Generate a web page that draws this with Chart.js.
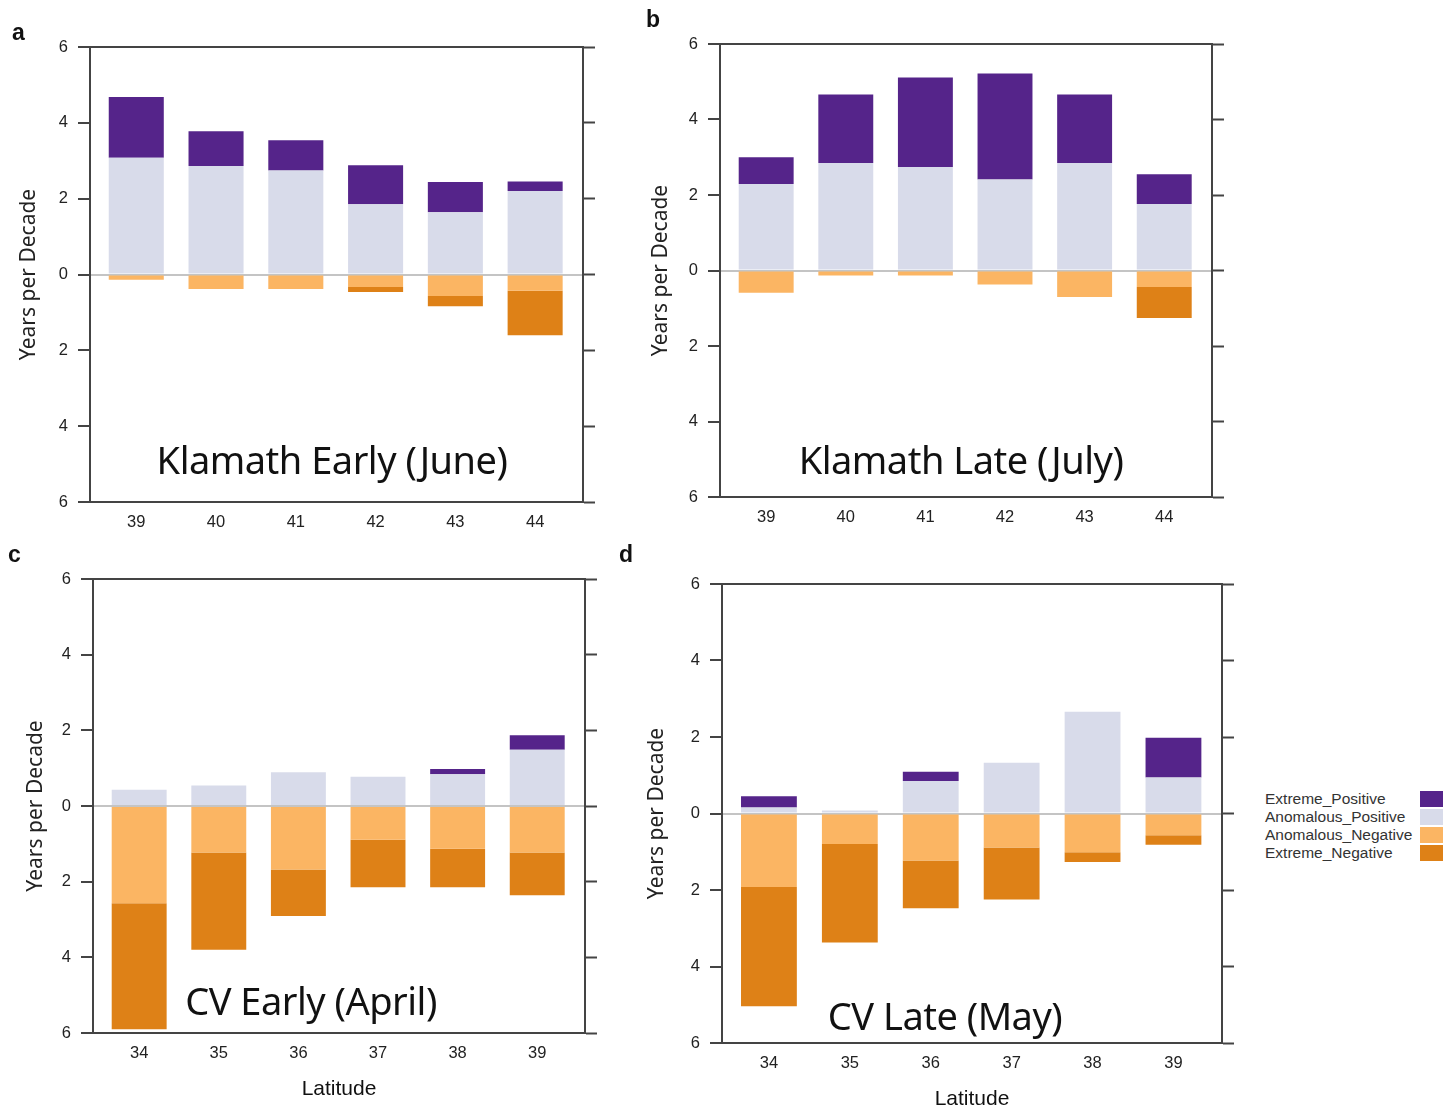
<!DOCTYPE html>
<html>
<head>
<meta charset="utf-8">
<script src="https://cdn.jsdelivr.net/npm/chart.js@4/dist/chart.umd.min.js"></script>
<style>
  body { margin: 0; background: #fff; width: 1455px; height: 1112px; overflow: hidden; position: relative; font-family: "Liberation Sans", Arial, sans-serif; }
  canvas { position: absolute; }
  .letter { position: absolute; font-weight: bold; font-size: 23px; color: #111; }
  .ptitle { position: absolute; font-family: "Noto Sans", sans-serif; font-size: 38px; color: #111; white-space: nowrap; transform: translate(-50%, -50%); letter-spacing: -0.5px; }
  #legend { position: absolute; left: 1265px; top: 790px; }
  .lg-row { position: relative; height: 18px; font-size: 15.5px; line-height: 18px; color: #333; width: 180px; }
  .lg-box { position: absolute; left: 155px; top: 1px; width: 23px; height: 16px; }
</style>
</head>
<body>
<canvas id="chartA" width="615" height="545" style="left:0px;top:0px"></canvas>
<canvas id="chartB" width="615" height="540" style="left:630px;top:0px"></canvas>
<canvas id="chartC" width="615" height="572" style="left:0px;top:540px"></canvas>
<canvas id="chartD" width="610" height="572" style="left:630px;top:540px"></canvas>

<div class="letter" style="left:12px;top:19px">a</div>
<div class="letter" style="left:646px;top:6px">b</div>
<div class="letter" style="left:8px;top:541px">c</div>
<div class="letter" style="left:619px;top:541px">d</div>

<div class="ptitle" style="left:332px;top:459px">Klamath Early (June)</div>
<div class="ptitle" style="left:961px;top:459px">Klamath Late (July)</div>
<div class="ptitle" style="left:311px;top:1000px">CV Early (April)</div>
<div class="ptitle" style="left:945px;top:1015px">CV Late (May)</div>

<div id="legend"></div>

<script>
const seriesNames = ['Extreme_Positive', 'Anomalous_Positive', 'Anomalous_Negative', 'Extreme_Negative'];
const seriesColors = ['#55248a', '#d8dbea', '#fbb563', '#de8117'];

const klamathLats = ['39', '40', '41', '42', '43', '44'];
const cvLats = ['34', '35', '36', '37', '38', '39'];
const yTicks = [-6, -4, -2, 0, 2, 4, 6];

// a - Klamath Early (June)
const aExtPos = [1.60, 0.92, 0.80, 1.03, 0.80, 0.25];
const aAnomPos = [3.08, 2.86, 2.74, 1.85, 1.64, 2.20];
const aAnomNeg = [-0.14, -0.38, -0.38, -0.33, -0.57, -0.43];
const aExtNeg = [0, 0, 0, -0.13, -0.27, -1.17];

// b - Klamath Late (July)
const bExtPos = [0.71, 1.81, 2.37, 2.81, 1.81, 0.79];
const bAnomPos = [2.29, 2.85, 2.74, 2.41, 2.85, 1.76];
const bAnomNeg = [-0.59, -0.13, -0.13, -0.37, -0.70, -0.44];
const bExtNeg = [0, 0, 0, 0, 0, -0.82];

// c - CV Early (April)
const cExtPos = [0, 0, 0, 0, 0.14, 0.38];
const cAnomPos = [0.43, 0.54, 0.89, 0.77, 0.84, 1.49];
const cAnomNeg = [-2.57, -1.23, -1.68, -0.89, -1.13, -1.23];
const cExtNeg = [-3.33, -2.57, -1.23, -1.26, -1.02, -1.13];

// d - CV Late (May)
const dExtPos = [0.29, 0, 0.24, 0, 0, 1.04];
const dAnomPos = [0.16, 0.08, 0.85, 1.33, 2.66, 0.94];
const dAnomNeg = [-1.92, -0.80, -1.23, -0.89, -1.01, -0.57];
const dExtNeg = [-3.12, -2.57, -1.25, -1.36, -0.26, -0.25];

const axisColor = '#444';
const tickFont = { family: 'Liberation Sans, Arial, sans-serif', size: 16.5 };

// top edge of the plot box
const frameTop = {
    id: 'frameTop',
    afterDraw: function(chart) {
        const a = chart.chartArea;
        const ctx = chart.ctx;
        ctx.save();
        ctx.strokeStyle = axisColor;
        ctx.lineWidth = 2;
        ctx.beginPath();
        ctx.moveTo(a.left - 1, a.top);
        ctx.lineTo(a.right + 1, a.top);
        ctx.stroke();
        ctx.restore();
    }
};

function tickList(values) {
    return values.map(function(v) { return { value: Number(v) }; });
}

function makePanel(id, labels, extPos, anomPos, anomNeg, extNeg, opts) {
    const datasets = [
        { label: seriesNames[1], data: anomPos, backgroundColor: seriesColors[1] },
        { label: seriesNames[0], data: extPos, backgroundColor: seriesColors[0] },
        { label: seriesNames[2], data: anomNeg, backgroundColor: seriesColors[2] },
        { label: seriesNames[3], data: extNeg, backgroundColor: seriesColors[3] }
    ];
    for (let i = 0; i < datasets.length; i++) {
        datasets[i].barPercentage = 0.69;
        datasets[i].categoryPercentage = 1;
        datasets[i].borderWidth = 0;
    }
    const first = Number(labels[0]);
    const last = Number(labels[labels.length - 1]);

    new Chart(document.getElementById(id), {
        type: 'bar',
        data: { labels: labels, datasets: datasets },
        plugins: [frameTop],
        options: {
            responsive: false,
            animation: false,
            devicePixelRatio: 1,
            layout: { padding: { top: opts.top, left: 0, right: 0, bottom: 0 } },
            plugins: { legend: { display: false }, tooltip: { enabled: false } },
            scales: {
                x: {
                    type: 'linear',
                    stacked: true,
                    offset: false,
                    min: first - 0.58,
                    max: last + 0.6,
                    afterBuildTicks: function(s) { s.ticks = tickList(labels); },
                    grid: { display: true, drawOnChartArea: false, drawTicks: false, offset: false },
                    border: { color: axisColor, width: 2 },
                    ticks: { color: '#222', font: tickFont, padding: 11 },
                    title: {
                        display: opts.xTitle,
                        text: 'Latitude',
                        color: '#111',
                        font: { family: 'Liberation Sans, Arial, sans-serif', size: 21 },
                        padding: { top: 12, bottom: opts.xtb }
                    },
                    afterFit: function(s) { s.height = opts.xh; }
                },
                y: {
                    stacked: true,
                    min: -6,
                    max: 6,
                    afterBuildTicks: function(s) { s.ticks = tickList(yTicks); },
                    ticks: {
                        color: '#222',
                        font: tickFont,
                        padding: 10,
                        callback: function(v) { return Math.abs(v); }
                    },
                    grid: {
                        color: function(c) { return c.tick && c.tick.value === 0 ? '#c4c4c4' : 'rgba(0,0,0,0)'; },
                        lineWidth: 2,
                        tickColor: axisColor,
                        tickLength: 12,
                        tickWidth: 2
                    },
                    border: { color: axisColor, width: 2 },
                    title: {
                        display: true,
                        text: 'Years per Decade',
                        color: '#222',
                        font: { family: 'Noto Sans, sans-serif', size: 21 },
                        padding: { top: opts.ytp, bottom: 0 }
                    },
                    afterFit: function(s) { s.width = opts.yw; }
                },
                y2: {
                    type: 'linear',
                    position: 'right',
                    min: -6,
                    max: 6,
                    afterBuildTicks: function(s) { s.ticks = tickList(yTicks); },
                    ticks: { display: false },
                    grid: { drawOnChartArea: false, tickColor: axisColor, tickLength: 12, tickWidth: 2 },
                    border: { color: axisColor, width: 2 },
                    afterFit: function(s) { s.width = opts.rw; }
                }
            }
        }
    });
}

makePanel('chartA', klamathLats, aExtPos, aAnomPos, aAnomNeg, aExtNeg, { top: 47, yw: 90, rw: 32, xh: 43, xTitle: false, xtb: 0, ytp: 16 });
makePanel('chartB', klamathLats, bExtPos, bAnomPos, bAnomNeg, bExtNeg, { top: 44, yw: 90, rw: 33, xh: 43, xTitle: false, xtb: 0, ytp: 18 });
makePanel('chartC', cvLats, cExtPos, cAnomPos, cAnomNeg, cExtNeg, { top: 39, yw: 93, rw: 30, xh: 79, xTitle: true, xtb: 10, ytp: 23 });
makePanel('chartD', cvLats, dExtPos, dAnomPos, dAnomNeg, dExtNeg, { top: 44, yw: 92, rw: 18, xh: 69, xTitle: true, xtb: 0, ytp: 14 });

// legend: text on the left, colour box on the right
const legendBox = document.getElementById('legend');
for (let i = 0; i < seriesNames.length; i++) {
    const row = document.createElement('div');
    row.className = 'lg-row';
    row.innerHTML = '<span>' + seriesNames[i] + '</span><div class="lg-box" style="background:' + seriesColors[i] + '"></div>';
    legendBox.appendChild(row);
}
</script>
</body>
</html>
